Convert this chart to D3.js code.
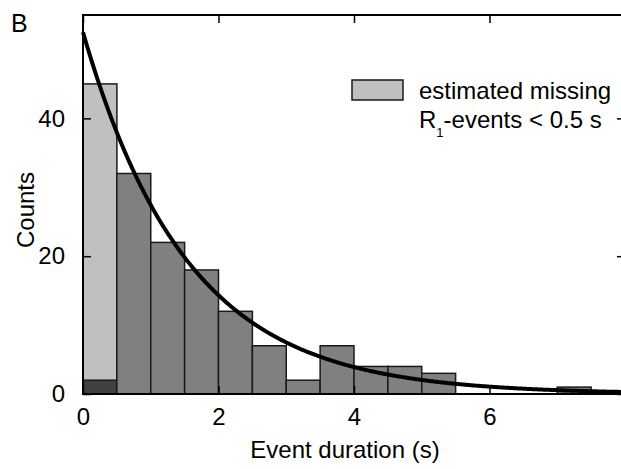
<!DOCTYPE html>
<html>
<head>
<meta charset="utf-8">
<script src="https://cdn.jsdelivr.net/npm/d3@7"></script>
<style>
  body { margin: 0; background: #fff; }
  svg { display: block; font-family: "Liberation Sans", Arial, sans-serif; }
</style>
</head>
<body>
<svg id="mainSvg" width="621" height="469"></svg>
<script>
// histogram bins (s) and counts
let binStart = [0, 0.5, 1, 1.5, 2, 2.5, 3, 3.5, 4, 4.5, 5, 5.5, 6, 6.5, 7]
let counts   = [2, 32, 22, 18, 12, 7, 2, 7, 4, 4, 3, 0, 0, 0, 1]
let binWidth = 0.5
// estimated missing R1-events < 0.5 s (total of first bin)
let missingBin = [0]
let missingTotal = [45]
// exponential fit
let fitA = 52.5
let fitTau = 1.54
let xTicks = [0, 2, 4, 6]
let yTicks = [0, 20, 40]

let svg = d3.select('#mainSvg')
let x = d3.scaleLinear().domain([0, 8]).range([83, 625])
let y = d3.scaleLinear().domain([0, 55]).range([394, 15])
let fs = 24

// missing bar (light)
svg.selectAll('.missing').data(missingBin).enter().append('rect')
  .attr('x', d => x(d))
  .attr('width', (d) => x(d + binWidth) - x(d))
  .attr('y', (d, i) => y(missingTotal[i]))
  .attr('height', (d, i) => y(0) - y(missingTotal[i]))
  .attr('fill', '#c0c0c0')
  .attr('stroke', '#1a1a1a')
  .attr('stroke-width', 1.5)

// measured bars
svg.selectAll('.bar').data(binStart.filter((d, i) => counts[i] > 0)).enter().append('rect')
  .attr('x', d => x(d))
  .attr('width', d => x(d + binWidth) - x(d))
  .attr('y', d => y(counts[binStart.indexOf(d)]))
  .attr('height', d => y(0) - y(counts[binStart.indexOf(d)]))
  .attr('fill', d => d == 0 ? '#404040' : '#808080')
  .attr('stroke', '#1a1a1a')
  .attr('stroke-width', 1.5)

// fit curve
let fitX = d3.range(0, 8.01, 0.02)
let line = d3.line().x(d => x(d)).y(d => y(fitA * Math.exp(-d / fitTau)))
svg.append('path').datum(fitX)
  .attr('d', line)
  .attr('fill', 'none')
  .attr('stroke', '#000')
  .attr('stroke-width', 4)

// axes (inward ticks)
let tickLen = 8
svg.append('g').attr('transform', `translate(0,${y(0)})`)
  .call(d3.axisBottom(x).tickValues(xTicks).tickSizeInner(-tickLen).tickSizeOuter(0).tickPadding(14).tickFormat(d3.format('d')))
svg.append('g').attr('transform', `translate(0,${y(55)})`)
  .call(d3.axisTop(x).tickValues([0, 2, 4, 6, 8]).tickSizeInner(-tickLen).tickSizeOuter(0).tickFormat(''))
svg.append('g').attr('transform', `translate(${x(0)},0)`)
  .call(d3.axisLeft(y).tickValues(yTicks).tickSizeInner(-tickLen).tickSizeOuter(0).tickPadding(18))
svg.append('g').attr('transform', `translate(${x(8)},0)`)
  .call(d3.axisRight(y).tickValues(yTicks).tickSizeInner(-tickLen).tickSizeOuter(0).tickFormat(''))

svg.selectAll('.domain').remove()
svg.selectAll('.tick line').attr('stroke', '#000').attr('stroke-width', 1.5)
svg.selectAll('.tick text').attr('font-size', fs).attr('fill', '#000')
  .attr('font-family', '"Liberation Sans", Arial, sans-serif')

// frame
svg.append('rect')
  .attr('x', x(0)).attr('y', y(55))
  .attr('width', x(8) - x(0)).attr('height', y(0) - y(55))
  .attr('fill', 'none').attr('stroke', '#000').attr('stroke-width', 2)

// labels
svg.append('text').attr('x', 345).attr('y', 458).attr('text-anchor', 'middle')
  .attr('font-size', fs).text('Event duration (s)')
svg.append('text').attr('transform', 'translate(34,210) rotate(-90)').attr('text-anchor', 'middle')
  .attr('font-size', fs).text('Counts')
svg.append('text').attr('x', 11).attr('y', 32).attr('font-size', 25).text('B')

// legend
svg.append('rect').attr('x', 352).attr('y', 80).attr('width', 51).attr('height', 20)
  .attr('fill', '#c0c0c0').attr('stroke', '#1a1a1a').attr('stroke-width', 1.5)
svg.append('text').attr('x', 419).attr('y', 99).attr('font-size', fs).text('estimated missing')
let l2 = svg.append('text').attr('x', 419).attr('y', 128).attr('font-size', fs)
l2.append('tspan').text('R')
l2.append('tspan').attr('dy', 9).attr('font-size', 13).text('1')
l2.append('tspan').attr('dy', -9).text('-events < 0.5 s')
</script>
</body>
</html>
